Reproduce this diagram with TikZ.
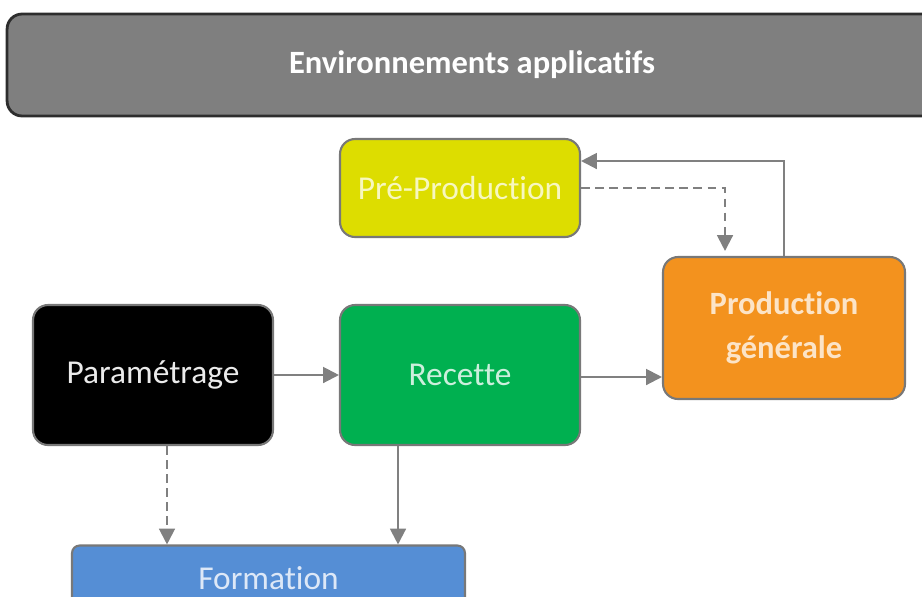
\documentclass[tikz,border=0pt]{standalone}
\usepackage{fontspec}
\setmainfont{Carlito}[Ligatures=CommonOff]
\usepackage{xcolor}
\usetikzlibrary{arrows.meta}
\definecolor{hdrgray}{RGB}{127,127,127}
\definecolor{hdrline}{RGB}{45,45,45}
\definecolor{boxline}{RGB}{120,120,120}
\definecolor{linkgray}{RGB}{128,128,128}
\definecolor{cyellow}{RGB}{221,221,0}
\definecolor{corange}{RGB}{243,146,30}
\definecolor{cgreen}{RGB}{0,176,80}
\definecolor{cblue}{RGB}{85,142,213}
\tikzstyle{box}=[draw=boxline, line width=1.2pt, rounded corners=0.3cm, minimum width=4.8cm, align=center, font=\fontsize{19}{25}\selectfont]
\tikzstyle{link}=[draw=linkgray, line width=1.2pt, -{Triangle[length=9pt,width=9pt]}]

\begin{document}
\begin{tikzpicture}[x=0.02cm,y=-0.02cm]
\clip (0,0) rectangle (922,596);
% header bar
\node[draw=hdrline, line width=1.6pt, fill=hdrgray, rounded corners=0.3cm, minimum width=18.6cm, minimum height=2.04cm,
  text=white, font=\bfseries\fontsize{18.5}{22}\selectfont] (envs) at (472,65) {Environnements applicatifs};
% boxes
\node[box, fill=cyellow, minimum height=1.96cm, text=white!75!cyellow] (prepro) at (460,188) {Pré-Production};
\node[box, fill=corange, minimum width=4.84cm, minimum height=2.84cm, text=white!75!corange, font=\bfseries\fontsize{18.5}{25}\selectfont] (prod) at (784,328) {Production\\générale};
\node[box, fill=black, minimum height=2.8cm, text=white!92!black] (param) at (153,375) {Paramétrage};
\node[box, fill=cgreen, minimum height=2.8cm, text=white!80!cgreen] (recette) at (460,375) {Recette};
\node[box, fill=cblue, minimum width=7.86cm, minimum height=1.3cm, rounded corners=0.15cm, text=white!80!cblue] (formation) at (268.5,578) {Formation};
% links
\draw[link] (param) -- (recette);
\draw[link] ([yshift=-0.04cm]recette.east) -- ([yshift=-0.04cm]recette.east -| prod.west);
\draw[link] (prod.north) |- ([yshift=0.54cm]prepro.east);
\draw[link, dash pattern=on 5pt off 3pt] (prepro.east) -| ([xshift=-1.18cm,yshift=0.1cm]prod.north);
\draw[link, dash pattern=on 5pt off 3pt] ([xshift=0.28cm]param.south) -- ([xshift=0.28cm]param.south |- formation.north);
\draw[link] ([xshift=-1.24cm]recette.south) -- ([xshift=-1.24cm]recette.south |- formation.north);
\end{tikzpicture}
\end{document}
